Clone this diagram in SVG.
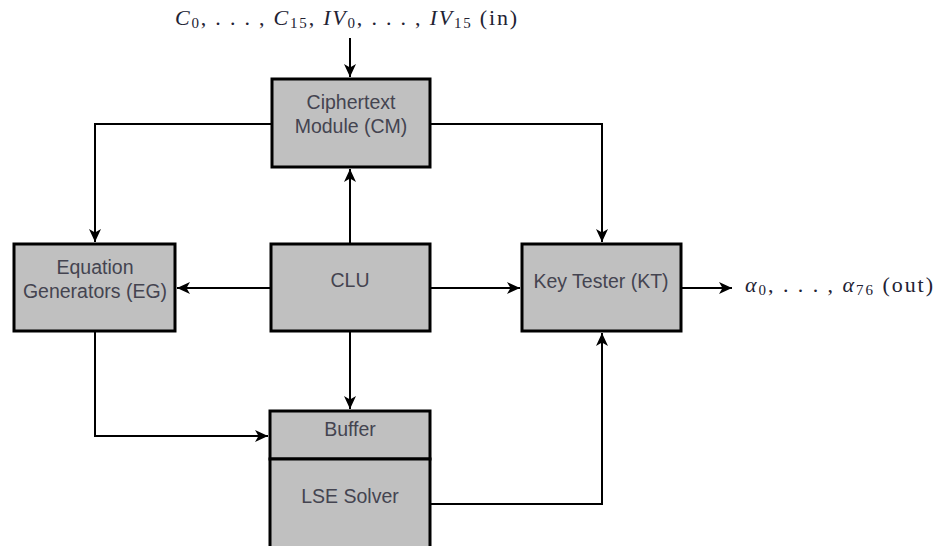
<svg xmlns="http://www.w3.org/2000/svg" width="940" height="546" viewBox="0 0 940 546">
  <style>
    .box { fill: #c0c0c0; stroke: #000; stroke-width: 3; }
    .wire { fill: none; stroke: #000; stroke-width: 2; marker-end: url(#head); }
    .lbl { font-family: "Liberation Sans", Arial, sans-serif; font-size: 19.5px; fill: #444450; text-anchor: middle; }
    .math { font-family: "Liberation Serif", "Times New Roman", serif; font-size: 22px; fill: #222233; }
    .it { font-style: italic; }
    .sub { font-size: 15px; }
  </style>
  <defs>
    <marker id="head" markerUnits="userSpaceOnUse" markerWidth="16" markerHeight="14" viewBox="-14 -7 16 14" refX="0" refY="0" orient="auto">
      <path d="M0,0 L-13,-6 L-9.5,0 L-13,6 Z" fill="#000"/>
    </marker>
  </defs>

  <!-- connectors -->
  <g id="connectors">
    <path class="wire" d="M350,38 V77"/>
    <path class="wire" d="M272,124 H95 V242"/>
    <path class="wire" d="M430,124 H602 V242"/>
    <path class="wire" d="M350,244 V169"/>
    <path class="wire" d="M271,288 H177"/>
    <path class="wire" d="M430,288 H520"/>
    <path class="wire" d="M350,331 V409"/>
    <path class="wire" d="M95,331 V436 H268"/>
    <path class="wire" d="M430,504 H602 V333"/>
    <path class="wire" d="M681,288 H732"/>
  </g>

  <g id="cm">
    <rect class="box" x="272" y="79" width="158" height="88"/>
    <text class="lbl" x="351" y="109">Ciphertext</text>
    <text class="lbl" x="351" y="133">Module (CM)</text>
  </g>

  <g id="eg">
    <rect class="box" x="14" y="244" width="161" height="87"/>
    <text class="lbl" x="95" y="274">Equation</text>
    <text class="lbl" x="95" y="298">Generators (EG)</text>
  </g>

  <g id="clu">
    <rect class="box" x="271" y="244" width="159" height="87"/>
    <text class="lbl" x="350" y="287">CLU</text>
  </g>

  <g id="kt">
    <rect class="box" x="522" y="244" width="159" height="87"/>
    <text class="lbl" x="601" y="288">Key Tester (KT)</text>
  </g>

  <g id="buffer">
    <rect class="box" x="270" y="411" width="160" height="48"/>
    <text class="lbl" x="350" y="436">Buffer</text>
  </g>

  <g id="lse">
    <rect class="box" x="270" y="459" width="160" height="100"/>
    <text class="lbl" x="350" y="503">LSE Solver</text>
  </g>

  <!-- external input / output labels -->
  <g id="input-label">
    <text class="math" x="175" y="25" textLength="342" lengthAdjust="spacing"><tspan class="it">C</tspan><tspan class="sub" dy="3">0</tspan><tspan dy="-3">, . . . , </tspan><tspan class="it">C</tspan><tspan class="sub" dy="3">15</tspan><tspan dy="-3">, </tspan><tspan class="it">IV</tspan><tspan class="sub" dy="3">0</tspan><tspan dy="-3">, . . . , </tspan><tspan class="it">IV</tspan><tspan class="sub" dy="3">15</tspan><tspan dy="-3"> (in)</tspan></text>
  </g>
  <g id="output-label">
    <text class="math" x="745" y="292" textLength="188" lengthAdjust="spacing"><tspan class="it">α</tspan><tspan class="sub" dy="3">0</tspan><tspan dy="-3">, . . . , </tspan><tspan class="it">α</tspan><tspan class="sub" dy="3">76</tspan><tspan dy="-3"> (out)</tspan></text>
  </g>
</svg>
